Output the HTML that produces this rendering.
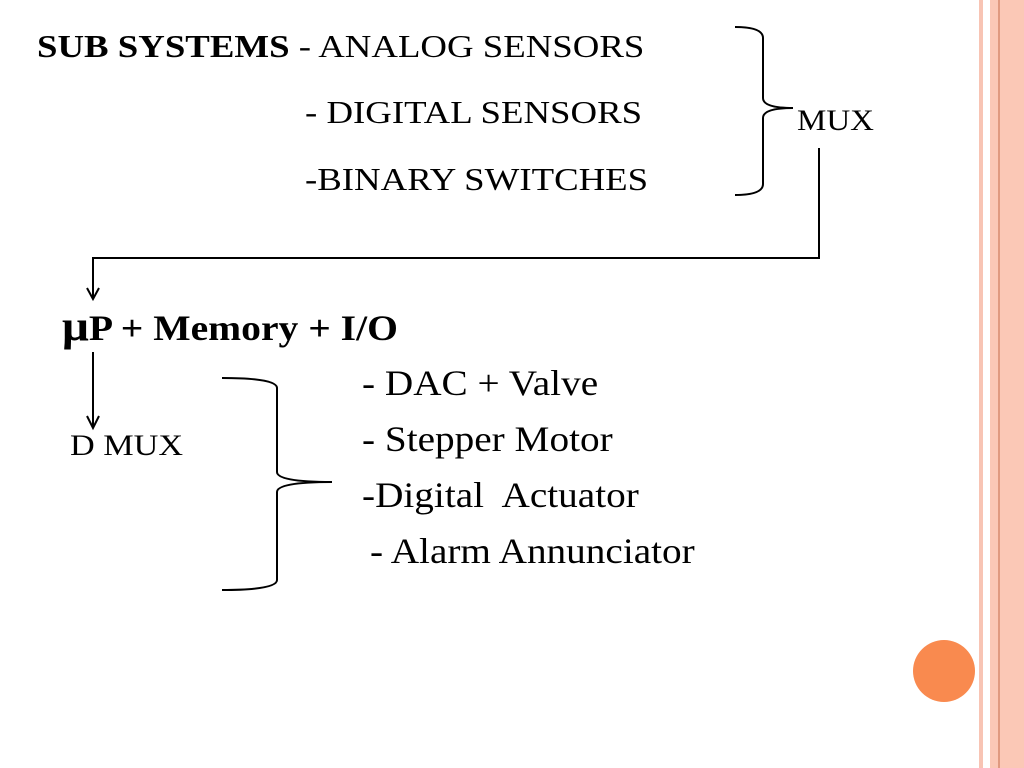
<!DOCTYPE html>
<html><head><meta charset="utf-8"><style>
body{margin:0;width:1024px;height:768px;background:#fff;position:relative;overflow:hidden;font-family:"Liberation Serif",serif;color:#000}
.t{position:absolute;white-space:nowrap;line-height:1;transform-origin:0 0}
</style></head><body>
<div style="position:absolute;left:979px;top:0;width:4px;height:768px;background:#f8c4b4"></div>
<div style="position:absolute;left:990px;top:0;width:34px;height:768px;background:#fbc8b6"></div>
<div style="position:absolute;left:998px;top:0;width:2px;height:768px;background:#e09a80"></div>
<div style="position:absolute;left:913px;top:640px;width:62px;height:62px;border-radius:50%;background:#f98a4f"></div>
<svg width="1024" height="768" style="position:absolute;left:0;top:0" fill="none" stroke="#000" stroke-width="2">
<path d="M735 27 Q763 27 763 38 V98 Q763 108 793 108 Q763 108 763 118 V184 Q763 195 735 195"/>
<path d="M819 148 V258 H93 V298"/>
<path d="M87 288 L93 299 L99 288"/>
<path d="M93 352 V427"/>
<path d="M87 416 L93 428 L99 416"/>
<path d="M222 378 Q277 378 277 388 V472 Q277 482 332 482 Q277 482 277 492 V580 Q277 590 222 590"/>
</svg>
<div class="t" style="left:37px;top:30px;font-size:32px;transform:scaleX(1.15)"><b>SUB SYSTEMS</b> - ANALOG SENSORS</div>
<div class="t" style="left:305px;top:96px;font-size:32px;transform:scaleX(1.15)">- DIGITAL SENSORS</div>
<div class="t" style="left:305px;top:163px;font-size:32px;transform:scaleX(1.15)">-BINARY SWITCHES</div>
<div class="t" style="left:797px;top:106px;font-size:30px;transform:scaleX(1.1)">MUX</div>
<div class="t" style="left:62px;top:305px;font-size:36px;font-weight:bold;transform:scaleX(1.1)"><span style="font-size:43px">μ</span>P + Memory + I/O</div>
<div class="t" style="left:70px;top:431px;font-size:30px;transform:scaleX(1.14)">D MUX</div>
<div class="t" style="left:362px;top:365px;font-size:36px;transform:scaleX(1.09)">- DAC + Valve</div>
<div class="t" style="left:362px;top:421px;font-size:36px;transform:scaleX(1.09)">- Stepper Motor</div>
<div class="t" style="left:362px;top:477px;font-size:36px;transform:scaleX(1.09)">-Digital&nbsp; Actuator</div>
<div class="t" style="left:370px;top:533px;font-size:36px;transform:scaleX(1.09)">- Alarm Annunciator</div>
</body></html>
